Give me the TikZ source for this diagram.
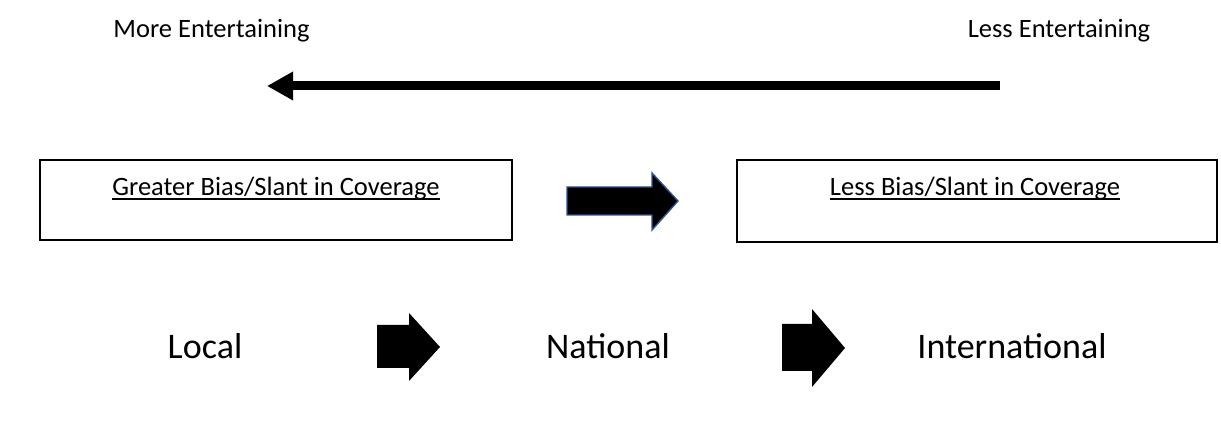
\documentclass[tikz,border=0pt]{standalone}
\usepackage{fontspec}
\setmainfont{Carlito}
\usetikzlibrary{arrows.meta}
\definecolor{arrowedge}{HTML}{2F5597}
\tikzset{
  label/.style={inner sep=0pt, anchor=base, font=\fontsize{26.5}{32}\selectfont},
  place/.style={inner sep=0pt, anchor=base, font=\fontsize{36}{42}\selectfont},
  framebox/.style={draw=black, line width=2.8pt},
  blockarrow/.style={fill=black},
  outlined/.style={fill=black, draw=arrowedge, line width=1.4pt, line join=miter},
  longarrow/.style={line width=9pt, -{Triangle[length=26pt,width=27pt]}},
  uline/.style={line width=1.8pt}
}
\begin{document}
\begin{tikzpicture}[x=1pt, y=-1pt]
  \useasboundingbox (0,0) rectangle (1221,427);
  \fill[white] (0,0) rectangle (1221,427);

  % entertainment scale
  \node[label] (more) at (211.5,38) {More Entertaining};
  \node[label] (less) at (1059,38) {Less Entertaining};
  \coordinate (fromless) at (1000,86);
  \coordinate (tomore) at (267,86);
  \draw[longarrow] (fromless) -- (tomore);

  % bias boxes
  \draw[framebox] (40,160) rectangle (512,240);
  \draw[framebox] (737,160) rectangle (1217,242);
  \node[label] (greater) at (276,196) {Greater Bias/Slant in Coverage};
  \node[label] (lessbias) at (975,196) {Less Bias/Slant in Coverage};
  \draw[uline] ([yshift=1.5]greater.south west) -- ([yshift=1.5]greater.south east);
  \draw[uline] ([yshift=1.5]lessbias.south west) -- ([yshift=1.5]lessbias.south east);

  % arrow between the boxes
  \draw[outlined] (567,187) -- (652,187) -- (652,173) -- (678,201)
    -- (652,230) -- (652,215) -- (567,215) -- cycle;

  % scope levels
  \node[place] (local) at (205,359) {Local};
  \node[place] (national) at (608,359) {National};
  \node[place] (intl) at (1012,359) {International};

  \fill[blockarrow] (377,325) -- (409,325) -- (409,313) -- (440,347)
    -- (409,381) -- (409,368) -- (377,368) -- cycle;
  \fill[blockarrow] (782,324) -- (812,324) -- (812,309) -- (845,348)
    -- (812,387) -- (812,371) -- (782,371) -- cycle;
\end{tikzpicture}
\end{document}
